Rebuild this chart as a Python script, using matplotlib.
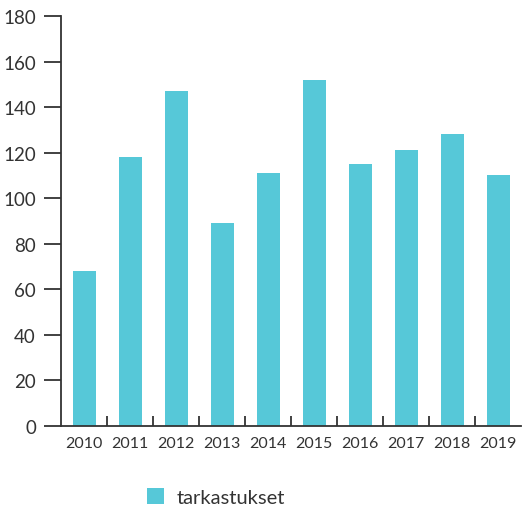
import matplotlib
matplotlib.use("Agg")
import matplotlib.pyplot as plt
from matplotlib.patches import Patch

years = ["2010", "2011", "2012", "2013", "2014", "2015", "2016", "2017", "2018", "2019"]
values = [68, 118, 147, 89, 111, 152, 115, 121, 128, 110]
series_name = "tarkastukset"
color = "#56C8D8"
text_color = "#333333"

plt.rcParams['font.family'] = ['Lato', 'DejaVu Sans']

fig = plt.figure(figsize=(5.22, 5.10), dpi=100)
W, H = 522, 510
ax = fig.add_axes([61 / W, 1 - 427 / H, (521 - 61) / W, (427 - 17) / H])

x = list(range(len(years)))
ax.bar(x, values, width=0.5, color=color, zorder=2)
ax.set_xlim(-0.5, len(years) - 0.5)
ax.set_ylim(0, 180)
ax.set_yticks(range(0, 181, 20))

for s in ["top", "right"]:
    ax.spines[s].set_visible(False)
for s in ["left", "bottom"]:
    ax.spines[s].set_color(text_color)
    ax.spines[s].set_linewidth(1.3)

ax.tick_params(axis="y", length=12, width=1.3, color=text_color, labelsize=13.5,
               labelcolor=text_color, pad=6)
ax.set_xticks(x)
ax.set_xticklabels(years)
ax.tick_params(axis="x", which="major", length=0, labelsize=11.5, labelcolor=text_color, pad=7)
ax.set_xticks([i + 0.5 for i in x[:-1]], minor=True)
ax.tick_params(axis="x", which="minor", direction="in", length=7, width=1.3, color=text_color)

handle = Patch(facecolor=color, edgecolor="none")
fig.legend([handle], [series_name], loc="center", bbox_to_anchor=(216 / W, 1 - 498 / H),
           frameon=False, fontsize=14.5, handlelength=0.85, handleheight=0.85,
           handletextpad=0.6, labelcolor=text_color)

fig.savefig("out.png", dpi=100)
